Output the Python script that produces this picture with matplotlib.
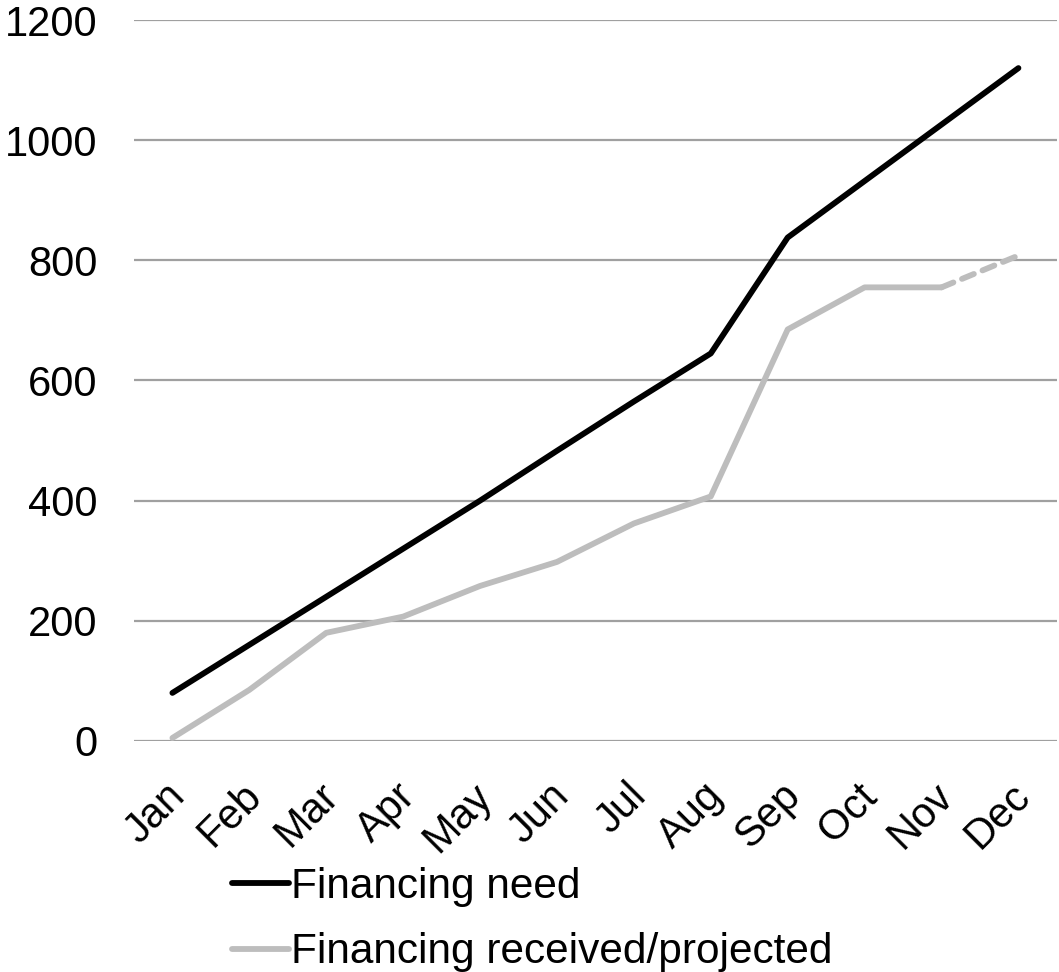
import matplotlib.pyplot as plt
import matplotlib.transforms as mtransforms
import numpy as np

plt.rcParams['font.family'] = ['Liberation Sans', 'DejaVu Sans']

months = ["Jan", "Feb", "Mar", "Apr", "May", "Jun",
          "Jul", "Aug", "Sep", "Oct", "Nov", "Dec"]
need = [80, 160, 240, 320, 400, 483, 565, 645, 838, 932, 1026, 1120]
received = [5, 85, 180, 207, 258, 298, 362, 407, 685, 755, 755, 808]
n_actual = 11  # last point is a projection

x = np.arange(len(months))

fig = plt.figure(figsize=(10.59, 9.72), dpi=100)
ax = fig.add_axes([0.1265, 0.2377, 0.8715, 0.7417])

ax.set_ylim(0, 1200)
ax.set_xlim(-0.5, len(months) - 0.5)
ax.set_yticks(np.arange(0, 1201, 200))
ax.grid(axis='y', color='#a0a0a0', linewidth=1.6)
ax.set_axisbelow(True)
for s in ax.spines.values():
    s.set_visible(False)

ax.plot(x, need, color='black', linewidth=4.2, solid_capstyle='round',
        label='Financing need')
ax.plot(x[:n_actual], received[:n_actual], color='#bdbdbd', linewidth=4.2,
        solid_capstyle='round', label='Financing received/projected')
ax.plot(x[n_actual - 1:], received[n_actual - 1:], color='#bdbdbd', linewidth=4.2,
        linestyle=(0, (2.2, 1.6)), dash_capstyle='round')

ax.set_xticks(x)
ax.set_xticklabels(months, rotation=45, ha='right', rotation_mode='anchor')
ax.tick_params(axis='both', length=0, labelsize=30)
ax.tick_params(axis='y', pad=26)
ax.tick_params(axis='x', pad=10)

# nudge month labels down and slightly left
shift = mtransforms.ScaledTranslation(-0.08, -0.21, fig.dpi_scale_trans)
for lbl in ax.get_xticklabels():
    lbl.set_transform(lbl.get_transform() + shift)

fig.legend(loc='upper left', bbox_to_anchor=(0.219, 0.108), frameon=False,
           fontsize=30.5, handlelength=1.35, handletextpad=0.05,
           labelspacing=0.6, borderpad=0, borderaxespad=0)

fig.savefig('out.png', dpi=100)
